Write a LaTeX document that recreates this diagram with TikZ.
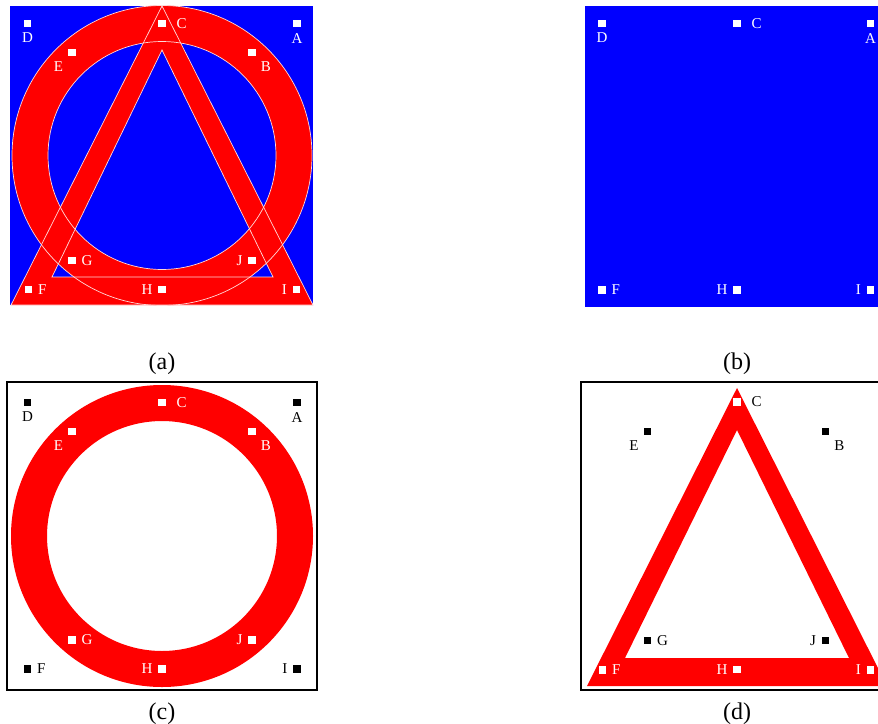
\documentclass[tikz,border=0pt]{standalone}
\usepackage{fontspec}
\setmainfont{Liberation Serif}
\tikzset{
  sqw/.style={fill=white,minimum size=7.5pt,inner sep=0pt},
  sqb/.style={sqw,fill=black},
  every label/.style={font=\fontsize{15}{15}\selectfont,inner sep=0.5pt,label distance=5pt},
  rim/.style={draw=white!85!red,line width=0.7pt},
  frame/.style={draw=black,line width=1.6pt},
  captext/.style={font=\fontsize{24}{24}\selectfont,anchor=base,inner sep=0pt},
}
\begin{document}
\begin{tikzpicture}[x=1pt,y=-1pt]
\definecolor{myblue}{RGB}{0,0,255}
\definecolor{myred}{RGB}{255,0,0}
\useasboundingbox (0,0) rectangle (878,723);
\clip (0,0) rectangle (878,723);

	% (a) both shapes on blue
	\fill[myblue] (10,6) rectangle (313,305);
	\fill[myred,even odd rule] (162,155.5) circle[radius=150] (162,155.5) circle[radius=114];
	\fill[myred,even odd rule] (162,6) -- (11,305) -- (313,305) -- cycle (162,50) -- (52,277) -- (273,277) -- cycle;
	\draw[rim] (162,155.5) circle[radius=150] (162,155.5) circle[radius=114];
	\draw[rim] (162,6) -- (11,305) -- (313,305) -- cycle (162,50) -- (52,277) -- (273,277) -- cycle;
	
	\node[sqw,label={[white]below:D}] (aD) at (27.5,23.5){};
	\node[sqw,label={[white,label distance=10pt]right:C}] (aC) at (162,23.5){};
	\node[sqw,label={[white]below:A}] (aA) at (297,23.5){};
	\node[sqw,label={[white,label distance=6pt]below left:E}] (aE) at (72,52.5){};
	\node[sqw,label={[white,label distance=6pt]below right:B}] (aB) at (252,52.5){};
	\node[sqw,label={[white]right:G}] (aG) at (72,260.5){};
	\node[sqw,label={[white]left:J}] (aJ) at (252,260.5){};
	\node[sqw,label={[white]right:F}] (aF) at (28.5,289.5){};
	\node[sqw,label={[white]left:H}] (aH) at (162,289.5){};
	\node[sqw,label={[white]left:I}] (aI) at (296.5,289.5){};
	
	% (b) blue only
	\fill[myblue] (585,6) rectangle (889,307);
	
	\node[sqw,label={[white]below:D}] (bD) at (602,23.5){};
	\node[sqw,label={[white,label distance=10pt]right:C}] (bC) at (737,23.5){};
	\node[sqw,label={[white]below:A}] (bA) at (870.5,23.5){};
	\node[sqw,label={[white]right:F}] (bF) at (602,290){};
	\node[sqw,label={[white]left:H}] (bH) at (737,290){};
	\node[sqw,label={[white]left:I}] (bI) at (870.5,290){};
	
	% (c) ring only
	\draw[frame] (7,382) rectangle (317,690);
	\fill[myred,even odd rule] (162,536) circle[radius=151] (162,536) circle[radius=115];
	
	\node[sqb,label={below:D}] (cD) at (27.5,402.5){};
	\node[sqw,label={[white,label distance=10pt]right:C}] (cC) at (162,402.5){};
	\node[sqb,label={below:A}] (cA) at (297,402.5){};
	\node[sqw,label={[white,label distance=6pt]below left:E}] (cE) at (72,431.5){};
	\node[sqw,label={[white,label distance=6pt]below right:B}] (cB) at (252,431.5){};
	\node[sqw,label={[white]right:G}] (cG) at (72,640){};
	\node[sqw,label={[white]left:J}] (cJ) at (252,640){};
	\node[sqb,label={right:F}] (cF) at (27.5,669){};
	\node[sqw,label={[white]left:H}] (cH) at (162,669){};
	\node[sqb,label={left:I}] (cI) at (297,669){};
	
	% (d) triangle only
	\draw[frame] (581,382) rectangle (893,690);
	\fill[myred,even odd rule] (737,388) -- (587,686) -- (887,686) -- cycle (737,430) -- (625,658) -- (849,658) -- cycle;
	
	\node[sqw,label={[label distance=10pt]right:C}] (dC) at (737,402){};
	\node[sqb,label={[label distance=6pt]below left:E}] (dE) at (647.5,431.5){};
	\node[sqb,label={[label distance=6pt]below right:B}] (dB) at (825.5,431.5){};
	\node[sqb,label={right:G}] (dG) at (647.5,640.5){};
	\node[sqb,label={left:J}] (dJ) at (825.5,640.5){};
	\node[sqw,label={[white]right:F}] (dF) at (602.5,670){};
	\node[sqw,label={[white]left:H}] (dH) at (737,669.5){};
	\node[sqw,label={[white]left:I}] (dI) at (870.5,670){};
	
	\node[captext] (capa) at (162,369.5){(a)};
	\node[captext] (capb) at (737,369.5){(b)};
	\node[captext] (capc) at (162,719.5){(c)};
	\node[captext] (capd) at (737,719.5){(d)};
	
\end{tikzpicture}
\end{document}
